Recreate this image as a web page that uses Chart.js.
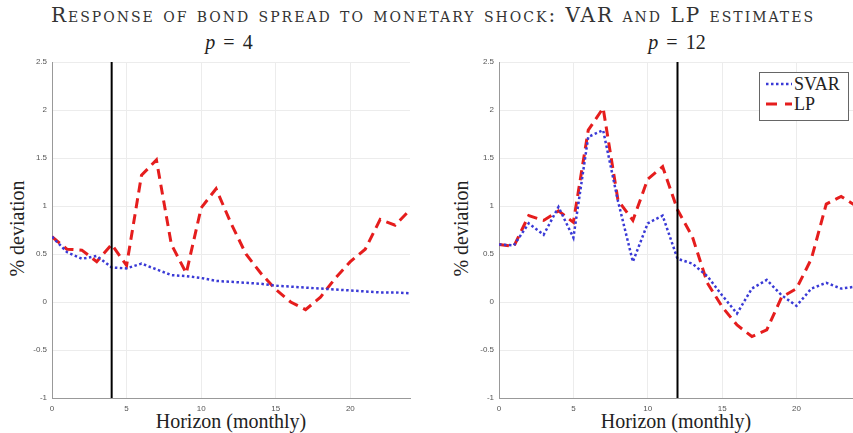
<!DOCTYPE html>
<html>
<head>
<meta charset="utf-8">
<script src="https://cdn.jsdelivr.net/npm/chart.js@4.4.1/dist/chart.umd.min.js"></script>
<style>
  body { margin: 0; width: 853px; height: 433px; overflow: hidden; background: #fff; position: relative;
         font-family: "Liberation Serif", "DejaVu Serif", serif; color: #222; }
  canvas { position: absolute; top: 0; }
  .title { position: absolute; top: 3px; left: 0; width: 866px; text-align: center; font-size: 20px;
           font-family: "DejaVu Serif", serif; font-variant: small-caps; white-space: nowrap; color: #333; }
  .sub { position: absolute; top: 31px; width: 200px; text-align: center; font-size: 20px; word-spacing: 3px; }
  .ylab { position: absolute; width: 160px; text-align: center; font-size: 20px; transform: rotate(-90deg); top: 217px; }
  .xlab { position: absolute; top: 410px; width: 240px; text-align: center; font-size: 20px; }
  .legend { position: absolute; left: 759px; top: 72px; width: 88px; height: 47px; border: 1px solid #666; background: #fff; font-size: 18px; }
  .legend div { position: absolute; left: 34px; }
  .legend svg { position: absolute; left: 4px; }
</style>
</head>
<body>
<div class="title" id="title">Response of bond spread to monetary shock: VAR and LP estimates</div>
<div class="sub" style="left:129px"><i>p</i> = 4</div>
<div class="sub" style="left:577px"><i>p</i> = 12</div>
<div class="ylab" style="left:-63px">% deviation</div>
<div class="ylab" style="left:381px">% deviation</div>
<div class="xlab" style="left:111px">Horizon (monthly)</div>
<div class="xlab" style="left:556px">Horizon (monthly)</div>

<canvas id="left" width="430" height="433" style="left:0px"></canvas>
<canvas id="right" width="429" height="433" style="left:447px"></canvas>

<div class="legend">
  <svg width="30" height="46"><line x1="2" y1="11" x2="28" y2="11" stroke="#3a3ad6" stroke-width="2.5" stroke-dasharray="2.5 2.5"/>
    <line x1="2" y1="31" x2="28" y2="31" stroke="#e51d1d" stroke-width="3" stroke-dasharray="11 8"/></svg>
  <div style="top:1px">SVAR</div>
  <div style="top:21px">LP</div>
</div>

<script>
const horizons = [0,1,2,3,4,5,6,7,8,9,10,11,12,13,14,15,16,17,18,19,20,21,22,23,24];
const cutoffs = [4, 12];
const yTicks = [-1, -0.5, 0, 0.5, 1, 1.5, 2, 2.5];
const xTicks = [0, 5, 10, 15, 20];

// p = 4
const svarP4 = [0.68,0.52,0.45,0.48,0.36,0.35,0.40,0.34,0.28,0.27,0.25,0.22,0.21,0.20,0.19,0.17,0.16,0.15,0.14,0.13,0.12,0.11,0.10,0.10,0.09];
const lpP4   = [0.68,0.55,0.54,0.42,0.60,0.38,1.32,1.48,0.60,0.30,0.98,1.18,0.82,0.50,0.30,0.13,0.00,-0.08,0.05,0.25,0.42,0.55,0.86,0.80,0.96];

// p = 12
const svarP12 = [0.60,0.59,0.82,0.70,0.99,0.67,1.72,1.79,1.05,0.42,0.82,0.90,0.45,0.40,0.27,0.07,-0.12,0.14,0.23,0.07,-0.04,0.14,0.20,0.14,0.16];
const lpP12   = [0.60,0.58,0.90,0.85,0.95,0.83,1.79,2.02,1.06,0.85,1.28,1.41,0.96,0.68,0.20,-0.05,-0.24,-0.36,-0.29,0.05,0.14,0.45,1.02,1.10,1.00];

// stretch the title's letter spacing to the width of the original
const title = document.getElementById("title");
const span = document.createElement("span");
span.textContent = title.textContent;
title.textContent = "";
title.appendChild(span);
const natural = span.getBoundingClientRect().width;
span.style.letterSpacing = Math.max(0, (764 - natural) / span.textContent.length) + "px";

function pts(ys) { return horizons.map((h, i) => ({ x: h, y: ys[i] })); }

function makeChart(id, svar, lp, cut) {
  const tickFont = { family: "Liberation Sans", size: 8 };
  return new Chart(document.getElementById(id), {
    type: "line",
    data: {
      datasets: [
        { label: "cut", data: [{ x: cut, y: yTicks[0] }, { x: cut, y: yTicks[yTicks.length - 1] }],
          borderColor: "#000", borderWidth: 2, pointRadius: 0 },
        { label: "SVAR", data: pts(svar), borderColor: "#3a3ad6", borderWidth: 2.5,
          borderDash: [2.5, 2.5], pointRadius: 0, tension: 0 },
        { label: "LP", data: pts(lp), borderColor: "#e51d1d", borderWidth: 3,
          borderDash: [10, 6], pointRadius: 0, tension: 0 }
      ]
    },
    options: {
      responsive: false,
      animation: false,
      layout: { padding: { top: 62, right: 20, left: 0, bottom: 0 } },
      plugins: { legend: { display: false }, tooltip: { enabled: false } },
      scales: {
        x: {
          type: "linear", min: 0, max: 24,
          afterFit: s => { s.height = 35; },
          afterBuildTicks: s => { s.ticks = xTicks.map(v => ({ value: v })); },
          ticks: { font: tickFont, color: "#555", padding: 6, callback: v => String(v) },
          grid: { color: "#ececec", drawTicks: false },
          border: { color: "#999" }
        },
        y: {
          min: -1, max: 2.5,
          afterFit: s => { s.width = 52; },
          afterBuildTicks: s => { s.ticks = yTicks.map(v => ({ value: v })); },
          ticks: { font: tickFont, color: "#555", padding: 5, callback: v => String(v) },
          grid: { color: "#ececec", drawTicks: false },
          border: { color: "#999" }
        }
      }
    }
  });
}

makeChart("left", svarP4, lpP4, cutoffs[0]);
makeChart("right", svarP12, lpP12, cutoffs[1]);
</script>
</body>
</html>
